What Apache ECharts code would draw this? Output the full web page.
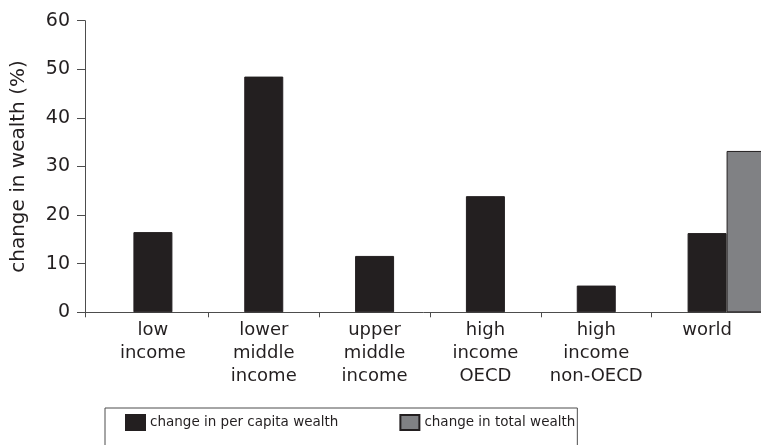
<!DOCTYPE html>
<html>
<head>
<meta charset="utf-8">
<script src="https://cdn.jsdelivr.net/npm/echarts@6/dist/echarts.min.js"></script>
<style>
  html, body { margin: 0; padding: 0; background: #fff; }
  #chart { width: 761px; height: 445px; }
</style>
</head>
<body>
<div id="chart"></div>
<script>
const categories = ['low\nincome', 'lower\nmiddle\nincome', 'upper\nmiddle\nincome', 'high\nincome\nOECD', 'high\nincome\nnon-OECD', 'world']
const perCapita = [16.5, 48.5, 11.6, 23.9, 5.5, 16.3]
const total = [null, null, null, null, null, 33.2]
const yTicks = [0, 10, 20, 30, 40, 50, 60]

const C = { bar: '#231f20', gray: '#808184', axis: '#4d4d4d', text: '#231f20' }
const FONT = 'DejaVu Sans'

const chart = echarts.init(document.getElementById('chart'), null, { renderer: 'canvas' })

const gTop = 20.7, gBottom = 132.7

chart.setOption({
  animation: false,
  textStyle: { fontFamily: FONT, color: C.text },
  grid: [
    { left: 97.5, width: 665, top: gTop, bottom: gBottom, outerBoundsMode: 'none', containLabel: false },
    { left: 85, right: -2, top: gTop, bottom: gBottom, outerBoundsMode: 'none', containLabel: false },
  ],
  legend: {
    data: ['change in per capita wealth', 'change in total wealth'],
    left: 105, top: 408,
    orient: 'horizontal',
    icon: 'rect',
    itemWidth: 19, itemHeight: 15, itemGap: 61,
    padding: [6, 2, 16, 20],
    borderColor: C.axis, borderWidth: 1,
    textStyle: { fontFamily: FONT, fontSize: 13.5, color: C.text, lineHeight: 15 },
  },
  xAxis: [
    {
      gridIndex: 0, type: 'category', data: categories,
      axisLine: { show: false },
      axisTick: { show: true, length: 5, interval: (i) => i > 0, lineStyle: { color: C.axis } },
      axisLabel: { color: C.text, fontSize: 18, lineHeight: 23, margin: 7, interval: 0 },
    },
    {
      gridIndex: 1, type: 'value', min: 0, max: 1, interval: 1,
      axisLine: { show: true, lineStyle: { color: C.axis } },
      axisTick: { show: true, length: 5, lineStyle: { color: C.axis } },
      axisLabel: { show: false },
      splitLine: { show: false },
    },
  ],
  yAxis: [
    { gridIndex: 0, type: 'value', min: 0, max: 60, show: false },
    {
      gridIndex: 1, type: 'value', min: yTicks[0], max: yTicks[yTicks.length - 1], interval: 10,
      name: 'change in wealth (%)', nameLocation: 'middle', nameGap: 56,
      nameTextStyle: { fontSize: 20, color: C.text, fontFamily: FONT },
      axisLine: { show: true, lineStyle: { color: C.axis } },
      axisTick: { show: true, length: 8, lineStyle: { color: C.axis } },
      axisLabel: { color: C.text, fontSize: 19, margin: 15 },
      splitLine: { show: false },
    },
  ],
  series: [
    { name: 'pad', type: 'bar', xAxisIndex: 0, yAxisIndex: 0, data: [], barWidth: 39, barGap: 0 },
    {
      name: 'change in per capita wealth', type: 'bar', xAxisIndex: 0, yAxisIndex: 0,
      data: perCapita, barWidth: 39, barGap: 0,
      itemStyle: { color: C.bar, borderColor: C.bar, borderWidth: 1 },
    },
    {
      name: 'change in total wealth', type: 'bar', xAxisIndex: 0, yAxisIndex: 0,
      data: total, barWidth: 39, barGap: 0,
      itemStyle: { color: C.gray, borderColor: C.bar, borderWidth: 1 },
    },
  ],
})
</script>
</body>
</html>
